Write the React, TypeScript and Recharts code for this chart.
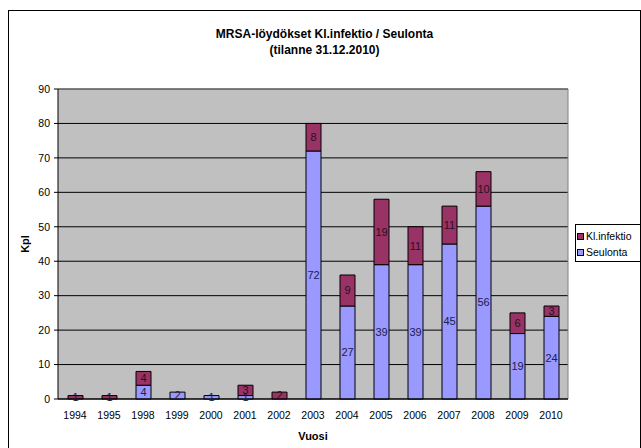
import React from 'react'
import { BarChart, Bar, XAxis, YAxis, CartesianGrid, LabelList, ReferenceLine } from 'recharts'

document.body.style.margin = '0'
document.body.style.overflow = 'hidden'

// Vuodet ja löydökset (kpl) luettu kuvasta
const years = ['1994', '1995', '1998', '1999', '2000', '2001', '2002', '2003', '2004', '2005', '2006', '2007', '2008', '2009', '2010']
const seulonta = [0, 0, 4, 2, 1, 1, 0, 72, 27, 39, 39, 45, 56, 19, 24]
const klInfektio = [1, 1, 4, 0, 0, 3, 2, 8, 9, 19, 11, 11, 10, 6, 3]
const yTicks = [0, 10, 20, 30, 40, 50, 60, 70, 80, 90]

const SEUL_COLOR = '#9999FF'
const KL_COLOR = '#993366'
const FONT = '"Liberation Sans", Arial, sans-serif'

const data = years.map((year, i) => ({ year, seulonta: seulonta[i], kl: klInfektio[i] }))
// boundary ticks between categories, like Excel draws them
const boundaries = years.map((_, i) => i).concat(years.length)

const hideZero = (v: any) => (v ? v : '')

export default function App() {
  return (
    <div style={{ position: 'relative', width: 641, height: 448, fontFamily: FONT }}>
      <div
        style={{
          position: 'absolute', left: 8, top: 10, width: 633, height: 445,
          border: '1px solid #000', boxSizing: 'border-box',
        }}
      />
      <div style={{ position: 'absolute', left: 8, width: 633, top: 26, textAlign: 'center', fontWeight: 'bold', fontSize: 12, lineHeight: '16px' }}>
        MRSA-löydökset Kl.infektio / Seulonta
        <br />
        (tilanne 31.12.2010)
      </div>
      <BarChart
        width={641}
        height={448}
        data={data}
        margin={{ top: 89, right: 73, bottom: 14, left: 18 }}
        style={{ position: 'absolute', left: 0, top: 0 }}
      >
        <CartesianGrid horizontal vertical={false} stroke="#000" fill="#C0C0C0" fillOpacity={1} />
        <XAxis
          xAxisId={1}
          type="number"
          dataKey={() => 0}
          domain={[0, years.length]}
          ticks={boundaries}
          allowDataOverflow
          height={0}
          axisLine={false}
          tickLine={{ stroke: '#000' }}
          tickSize={4}
          tickFormatter={() => ''}
        />
        <XAxis
          dataKey="year"
          height={35}
          axisLine={{ stroke: '#000' }}
          tickLine={false}
          tickSize={4}
          tickMargin={9}
          interval={0}
          tick={{ fill: '#000', fontSize: 10.5, fontFamily: FONT }}
        />
        <YAxis
          width={40}
          domain={[0, 90]}
          ticks={yTicks}
          interval={0}
          axisLine={{ stroke: '#000' }}
          tickLine={{ stroke: '#000' }}
          tickSize={4}
          tickMargin={4}
          tick={{ fill: '#000', fontSize: 10.5, fontFamily: FONT }}
        />
        <ReferenceLine y={90} stroke="#808080" />
        <ReferenceLine xAxisId={1} x={years.length} stroke="#808080" />
        <Bar dataKey="seulonta" stackId="a" fill={SEUL_COLOR} stroke="#000" strokeWidth={1} barSize={15} isAnimationActive={false}>
          <LabelList dataKey="seulonta" position="center" formatter={hideZero} fill="#20204a" fontSize={11} fontFamily={FONT} />
        </Bar>
        <Bar dataKey="kl" stackId="a" fill={KL_COLOR} stroke="#000" strokeWidth={1} barSize={15} isAnimationActive={false}>
          <LabelList dataKey="kl" position="center" formatter={hideZero} fill="#2a1020" fontSize={11} fontFamily={FONT} />
        </Bar>
      </BarChart>
      <div style={{ position: 'absolute', left: 263, width: 100, top: 430, textAlign: 'center', fontWeight: 'bold', fontSize: 11 }}>
        Vuosi
      </div>
      <div
        style={{
          position: 'absolute', left: 25, top: 244, fontWeight: 'bold', fontSize: 11,
          transform: 'translate(-50%, -50%) rotate(-90deg)',
        }}
      >
        Kpl
      </div>
      <div
        style={{
          position: 'absolute', left: 575, top: 224, width: 66, height: 38, boxSizing: 'border-box',
          border: '1px solid #000', background: '#fff', fontSize: 10.5, padding: '3px 0 0 1px',
          whiteSpace: 'nowrap',
        }}
      >
        {[['Kl.infektio', KL_COLOR], ['Seulonta', SEUL_COLOR]].map(([name, color]) => (
          <div key={name} style={{ display: 'flex', alignItems: 'center', height: 16 }}>
            <span style={{ width: 5, height: 5, background: color, border: '1px solid #000', marginRight: 2, flex: 'none' }} />
            {name}
          </div>
        ))}
      </div>
    </div>
  )
}
